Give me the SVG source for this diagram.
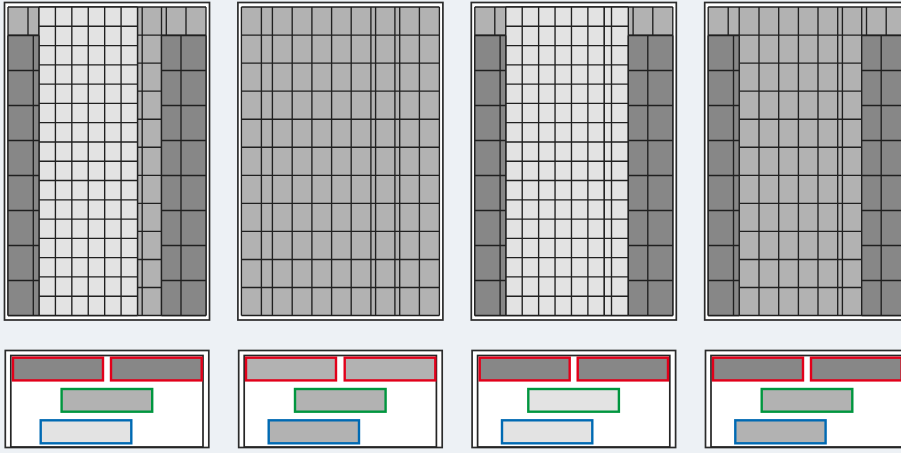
<svg xmlns="http://www.w3.org/2000/svg" xmlns:xlink="http://www.w3.org/1999/xlink" width="901" height="453" viewBox="0 0 901 453">
<style>
.ln{fill:none;stroke:#202020;stroke-width:1.35}
.frame{fill:#ffffff;stroke:#2b2b2b;stroke-width:1.7}
.iframe{fill:none;stroke:#252525;stroke-width:1.7}
.med{fill:#b2b2b2}
.dk{fill:#878787}
.lt{fill:#e3e3e3}
.red{stroke:#e2001a;stroke-width:2.4}
.grn{stroke:#00963f;stroke-width:2.4}
.blu{stroke:#006ab3;stroke-width:2.4}
</style>
<defs>
<g id="topframe"><rect class="frame" x="4.5" y="2.5" width="205" height="317.5"/></g>
<g id="base">
<rect class="med" x="8" y="7" width="198" height="308.5"/>
<path class="ln" d="M8 7V315.5M28 7V315.5M39 7V315.5M58.8 7V315.5M78.5 7V315.5M98.2 7V315.5M117.8 7V315.5M137.5 7V315.5M142.2 7V315.5M161.5 7V315.5M166.3 7V315.5M186 7V315.5M206 7V315.5M8 7H206M8 35.05H206M8 63.1H206M8 91.15H206M8 119.2H206M8 147.25H206M8 175.3H206M8 203.35H206M8 231.4H206M8 259.45H206M8 287.5H206M8 315.5H206"/>
</g>
<g id="light">
<rect class="lt" x="39" y="7" width="98.5" height="308.5"/>
<path class="ln" d="M39 7V315.5M55.42 7V315.5M71.83 7V315.5M88.25 7V315.5M104.67 7V315.5M121.08 7V315.5M137.5 7V315.5M39 7H137.5M39 26.28H137.5M39 45.56H137.5M39 64.84H137.5M39 84.12H137.5M39 103.4H137.5M39 122.68H137.5M39 141.96H137.5M39 161.24H137.5M39 180.52H137.5M39 199.8H137.5M39 219.08H137.5M39 238.36H137.5M39 257.64H137.5M39 276.92H137.5M39 296.2H137.5M39 315.5H137.5"/>
</g>
<g id="lightext">
<rect class="lt" x="137.5" y="7" width="24" height="308.5"/>
<path class="ln" d="M137.5 7V315.5M144.7 7V315.5M161.5 7V315.5M137.5 7H161.5M137.5 26.28H161.5M137.5 45.56H161.5M137.5 64.84H161.5M137.5 84.12H161.5M137.5 103.4H161.5M137.5 122.68H161.5M137.5 141.96H161.5M137.5 161.24H161.5M137.5 180.52H161.5M137.5 199.8H161.5M137.5 219.08H161.5M137.5 238.36H161.5M137.5 257.64H161.5M137.5 276.92H161.5M137.5 296.2H161.5M137.5 315.5H161.5"/>
</g>
<g id="darksides">
<rect class="dk" x="8" y="35.5" width="31" height="280"/>
<rect class="dk" x="161.5" y="35.5" width="44.5" height="280"/>
<path class="ln" d="M8 35.5V315.5M33.3 35.5V315.5M39 35.5V315.5M8 35.5H39M8 70.5H39M8 105.5H39M8 140.5H39M8 175.5H39M8 210.5H39M8 245.5H39M8 280.5H39M8 315.5H39"/>
<path class="ln" d="M161.5 35.5V315.5M181 35.5V315.5M206 35.5V315.5M161.5 35.5H206M161.5 70.5H206M161.5 105.5H206M161.5 140.5H206M161.5 175.5H206M161.5 210.5H206M161.5 245.5H206M161.5 280.5H206M161.5 315.5H206"/>
</g>
<g id="botframe">
<rect class="frame" x="5.3" y="350.5" width="203.5" height="97"/>
<rect class="iframe" x="10.8" y="355.5" width="192.2" height="91.5"/>
</g>
</defs>
<rect x="0" y="0" width="901" height="453" fill="#edf1f5"/>

<g id="panel1-top">
<use href="#topframe"/><use href="#base"/><use href="#light"/><use href="#darksides"/>
</g>
<g id="panel2-top" transform="translate(233.4,0)">
<use href="#topframe"/><use href="#base"/>
</g>
<g id="panel3-top" transform="translate(466.8,0)">
<use href="#topframe"/><use href="#base"/><use href="#light"/><use href="#lightext"/><use href="#darksides"/>
</g>
<g id="panel4-top" transform="translate(700.2,0)">
<use href="#topframe"/><use href="#base"/><use href="#darksides"/>
</g>

<g id="panel1-bottom">
<use href="#botframe"/>
<rect class="dk red" x="13" y="357.7" width="90" height="22.7"/>
<rect class="dk red" x="111" y="357.7" width="90.7" height="22.7"/>
<rect class="med grn" x="61.6" y="389" width="90.6" height="22.7"/>
<rect class="lt blu" x="40.7" y="420.3" width="90.6" height="23"/>
</g>
<g id="panel2-bottom" transform="translate(233.4,0)">
<use href="#botframe"/>
<rect class="med red" x="12.6" y="357.7" width="90" height="22.7"/>
<rect class="med red" x="111.3" y="357.7" width="90.6" height="22.7"/>
<rect class="med grn" x="61.6" y="389" width="90.6" height="22.7"/>
<rect class="med blu" x="35.3" y="420.3" width="90.3" height="23"/>
</g>
<g id="panel3-bottom" transform="translate(466.8,0)">
<use href="#botframe"/>
<rect class="dk red" x="12.9" y="357.7" width="90" height="22.7"/>
<rect class="dk red" x="110.9" y="357.7" width="90.3" height="22.7"/>
<rect class="lt grn" x="61.5" y="389" width="90.6" height="22.7"/>
<rect class="lt blu" x="35.2" y="420.3" width="90.3" height="23"/>
</g>
<g id="panel4-bottom" transform="translate(700.2,0)">
<use href="#botframe"/>
<rect class="dk red" x="12.8" y="357.7" width="90" height="22.7"/>
<rect class="dk red" x="110.8" y="357.7" width="90.6" height="22.7"/>
<rect class="med grn" x="61.5" y="389" width="90.6" height="22.7"/>
<rect class="med blu" x="35.1" y="420.3" width="90.3" height="23"/>
</g>
</svg>
